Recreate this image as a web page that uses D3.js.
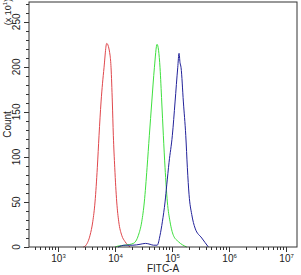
<!DOCTYPE html>
<html>
<head>
<meta charset="utf-8">
<script src="https://cdn.jsdelivr.net/npm/d3@7"></script>
<style>
  body { margin: 0; background: #fff; }
  text { font-family: "Liberation Sans", Arial, sans-serif; fill: #222; }
</style>
</head>
<body>
<div id="chart"></div>
<script>
// FITC-A intensity / count (x10)
var redX   = [2840, 3160, 3720, 4150, 4550, 4990, 5350, 5800, 6540, 7300, 8340, 8690, 9150, 9530, 10090, 10930, 11860, 13370, 15280, 18700];
var redY   = [0, 2, 13, 28, 50, 88, 124, 161, 199, 226, 213, 199, 161, 124, 88, 50, 28, 13, 6, 0];

var greenX = [10200, 11500, 15300, 21400, 26200, 30000, 33300, 37200, 40800, 45000, 50000, 55700, 62800, 67300, 71800, 76900, 84400, 94100, 107600, 131600, 184900];
var greenY = [0, 1, 2, 4, 13, 28, 50, 88, 124, 161, 199, 225, 199, 161, 124, 88, 50, 28, 13, 6, 0];

var blueX  = [11500, 15300, 21000, 28000, 35000, 42000, 48300, 56100, 62800, 69000, 76900, 82400, 90400, 103300, 115200, 128300, 135400, 140500, 146900, 161200, 177500, 189400, 202800, 226100, 258300, 338500, 442500];
var blueY  = [0, 2, 2, 3, 4, 3, 2, 2, 13, 28, 50, 69, 94, 124, 161, 199, 215, 205, 199, 161, 124, 88, 58, 36, 21, 10, 0];

var yTicks = [0, 50, 100, 150, 200, 250];
var xDecades = [3, 4, 5, 6, 7];

var width = 301, height = 275;
var margin = {top: 2, right: 4, bottom: 28, left: 29};

var svg = d3.select('#chart').append('svg')
  .attr('width', width)
  .attr('height', height);

var x = d3.scaleLog()
  .domain([Math.pow(10, 2.5), Math.pow(10, 7.2)])
  .range([margin.left, width - margin.right]);

var y = d3.scaleLinear()
  .domain([0, 272])
  .range([height - margin.bottom, margin.top]);

// histogram lines
var line = d3.line()
  .x(d => x(d[0]))
  .y(d => y(d[1]))
  .curve(d3.curveMonotoneX);

var series = [
  {xs: redX, ys: redY, color: '#e0474c'},
  {xs: greenX, ys: greenY, color: '#3ee03e'},
  {xs: blueX, ys: blueY, color: '#22229a'}
];

series.forEach(function(s) {
  svg.append('path')
    .datum(s.xs.map((v, i) => [v, s.ys[i]]))
    .attr('fill', 'none')
    .attr('stroke', s.color)
    .attr('stroke-width', 1)
    .attr('d', line);
});

// frame
svg.append('rect')
  .attr('x', margin.left)
  .attr('y', margin.top)
  .attr('width', width - margin.right - margin.left)
  .attr('height', height - margin.bottom - margin.top)
  .attr('fill', 'none')
  .attr('stroke', '#333')
  .attr('stroke-width', 1);

// y axis, minor ticks every 10
var yMinor = d3.range(0, 271, 10);
svg.selectAll('.ytick')
  .data(yMinor)
  .enter().append('line')
  .attr('x1', margin.left)
  .attr('x2', d => margin.left - (d % 50 === 0 ? 5 : 3))
  .attr('y1', d => Math.round(y(d)) + 0.5)
  .attr('y2', d => Math.round(y(d)) + 0.5)
  .attr('stroke', '#333');

svg.selectAll('.ylab')
  .data(yTicks)
  .enter().append('text')
  .attr('transform', d => `translate(${margin.left - 9}, ${y(d)}) rotate(-90)`)
  .attr('text-anchor', 'middle')
  .attr('font-size', '10px')
  .text(d => d);

svg.append('text')
  .attr('transform', `translate(11, ${y(136)}) rotate(-90)`)
  .attr('text-anchor', 'middle')
  .attr('font-size', '10px')
  .text('Count');

var mult = svg.append('text')
  .attr('transform', 'translate(11, 12) rotate(-90)')
  .attr('text-anchor', 'middle')
  .attr('font-size', '9px')
  .text('(x 10');
mult.append('tspan').attr('font-size', '6px').attr('dy', '-4').text('1');
mult.append('tspan').attr('dy', '4').text(')');

// x axis, log ticks
var xMinor = [];
for (var e = 2; e <= 7; e++) {
  for (var m = 1; m <= 9; m++) {
    var v = m * Math.pow(10, e);
    if (v >= x.domain()[0] && v <= x.domain()[1]) xMinor.push({v: v, major: m === 1});
  }
}
var yb = height - margin.bottom;
svg.selectAll('.xtick')
  .data(xMinor)
  .enter().append('line')
  .attr('x1', d => Math.round(x(d.v)) + 0.5)
  .attr('x2', d => Math.round(x(d.v)) + 0.5)
  .attr('y1', yb)
  .attr('y2', d => yb + (d.major ? 5 : 3))
  .attr('stroke', '#333');

var xl = svg.selectAll('.xlab')
  .data(xDecades)
  .enter().append('text')
  .attr('x', d => x(Math.pow(10, d)) + 1)
  .attr('y', yb + 15)
  .attr('text-anchor', 'middle')
  .attr('font-size', '10px');
xl.append('tspan').text('10');
xl.append('tspan').attr('font-size', '6px').attr('dy', '-4').text(d => d);

svg.append('text')
  .attr('x', 163)
  .attr('y', 272)
  .attr('text-anchor', 'middle')
  .attr('font-size', '10px')
  .text('FITC-A');
</script>
</body>
</html>
